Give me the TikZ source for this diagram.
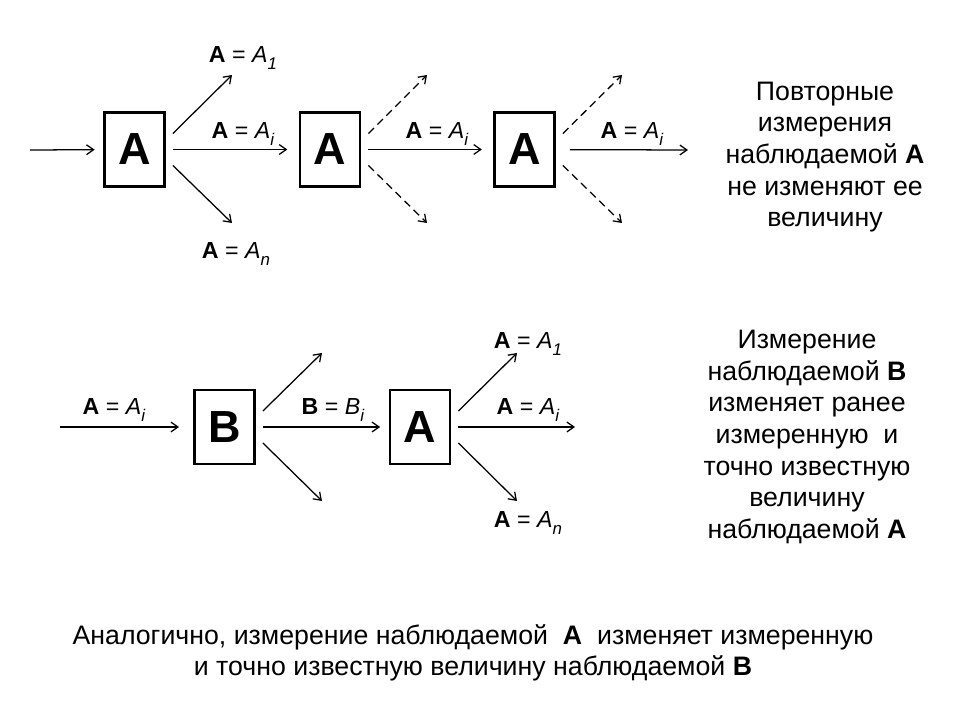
\documentclass[tikz,border=0pt]{standalone}
\usepackage{fontspec}
\setmainfont{Liberation Sans}
\usetikzlibrary{arrows.meta,positioning}

\newcommand{\eqval}[2]{\textbf{#1} = \textit{#1}\raisebox{-4.5pt}{\fontsize{12}{12}\selectfont\textit{#2}}}

\begin{document}
\begin{tikzpicture}[x=0.025cm, y=-0.025cm,
    obox/.style={rectangle, draw, line width=2pt, minimum width=1.5cm, minimum height=1.85cm, inner sep=0pt, font=\fontsize{32}{32}\selectfont\bfseries},
    arr/.style={-{Straight Barb[length=5pt,width=7pt]}, line width=0.9pt},
    darr/.style={arr, dash pattern=on 5.5pt off 3.5pt},
    lbl/.style={font=\fontsize{16.5}{19}\selectfont, inner sep=1pt},
    txt/.style={align=center, font=\fontsize{19}{22.5}\selectfont}
]
    \useasboundingbox (0,0) rectangle (960,720);

    % repeated measurements of A
    \node[obox] (a1) at (134.5,149.5) {A};
    \node[obox] (a2) at (330,149.5) {A};
    \node[obox] (a3) at (524.5,149.5) {A};

    \coordinate (in1) at (30,150);
    \coordinate (a1up) at (232,75);
    \coordinate (a1dn) at (232,223);
    \coordinate (a2up) at (427,75);
    \coordinate (a2dn) at (427,223);
    \coordinate (a3up) at (622,75);
    \coordinate (a3dn) at (622,223);
    \coordinate (a3out) at (688,150);

    \draw[arr, shorten >=6pt] (in1) -- (a1);
    \draw[arr] ([shift={(7,-16)}]a1.east) -- (a1up);
    \draw[arr, shorten <=5pt, shorten >=8pt] (a1) -- (a2);
    \draw[arr] ([shift={(7,16)}]a1.east) -- (a1dn);
    \draw[darr] ([shift={(7,-16)}]a2.east) -- (a2up);
    \draw[arr, shorten <=5pt, shorten >=8pt] (a2) -- (a3);
    \draw[darr] ([shift={(7,16)}]a2.east) -- (a2dn);
    \draw[darr] ([shift={(7,-16)}]a3.east) -- (a3up);
    \draw[arr, shorten <=10pt] (a3) -- (a3out);
    \draw[darr] ([shift={(7,16)}]a3.east) -- (a3dn);

    \node[lbl] (l1) at (243,58) {\eqval{A}{1}};
    \node[lbl] (l2) at (243,134) {\eqval{A}{i}};
    \node[lbl] (l3) at (236,254) {\eqval{A}{n}};
    \node[lbl] (l4) at (437,134) {\eqval{A}{i}};
    \node[lbl] (l5) at (632,134) {\eqval{A}{i}};

    \node[txt] (t1) at (825,157) {Повторные\\измерения\\наблюдаемой \textbf{A}\\не изменяют ее\\величину};

    % B then A
    \node[obox] (b1) at (224.5,427) {B};
    \node[obox] (a4) at (420,427) {A};

    \coordinate (in2) at (60,427);
    \coordinate (b1up) at (322,353);
    \coordinate (b1dn) at (322,501);
    \coordinate (a4up) at (517,353);
    \coordinate (a4dn) at (517,501);
    \coordinate (a4out) at (575,427);

    \draw[arr, shorten >=10pt] (in2) -- (b1);
    \draw[arr] ([shift={(7,-16)}]b1.east) -- (b1up);
    \draw[arr, shorten <=5pt, shorten >=6pt] (b1) -- (a4);
    \draw[arr] ([shift={(7,16)}]b1.east) -- (b1dn);
    \draw[arr] ([shift={(7,-16)}]a4.east) -- (a4up);
    \draw[arr, shorten <=5pt] (a4) -- (a4out);
    \draw[arr] ([shift={(7,16)}]a4.east) -- (a4dn);

    \node[lbl] (l6) at (114,410) {\eqval{A}{i}};
    \node[lbl] (l7) at (333,410) {\eqval{B}{i}};
    \node[lbl] (l8) at (528,344) {\eqval{A}{1}};
    \node[lbl] (l9) at (528,410) {\eqval{A}{i}};
    \node[lbl] (l10) at (528,523) {\eqval{A}{n}};

    \node[txt] (t2) at (807,437) {Измерение\\наблюдаемой \textbf{B}\\изменяет ранее\\измеренную\ \ и\\точно известную\\величину\\наблюдаемой \textbf{A}};

    \node[txt] (t3) at (473,653) {Аналогично, измерение наблюдаемой\ \ \textbf{A}\ \ изменяет измеренную\\и точно известную величину наблюдаемой \textbf{B}};
\end{tikzpicture}
\end{document}
